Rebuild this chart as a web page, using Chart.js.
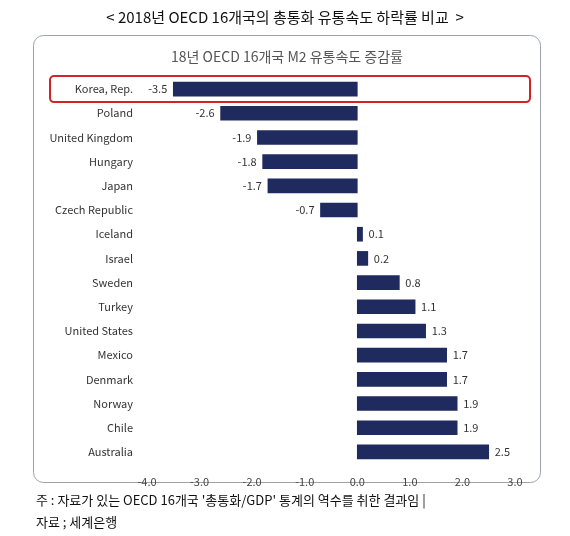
<!DOCTYPE html>
<html><head><meta charset="utf-8">
<script src="https://cdn.jsdelivr.net/npm/chart.js@4"></script>
<style>html,body{margin:0;padding:0;background:#fff}#c{display:block}</style>
</head><body>
<div style="width:570px;height:536px"><canvas id="c" width="570" height="536"></canvas></div>
<script>
const countries=["Korea, Rep.","Poland","United Kingdom","Hungary","Japan","Czech Republic","Iceland","Israel","Sweden","Turkey","United States","Mexico","Denmark","Norway","Chile","Australia"];
const values=[-3.5,-2.6,-1.9,-1.8,-1.7,-0.7,0.1,0.2,0.8,1.1,1.3,1.7,1.7,1.9,1.9,2.5];
const xTicks=[-4,-3,-2,-1,0,1,2,3];
const FONT='"Noto Sans CJK KR","Noto Sans",sans-serif';
const deco={id:'deco',
beforeDraw(ch){const c=ch.ctx;c.save();c.fillStyle='#fff';c.fillRect(0,0,570,536);
c.strokeStyle='#9aa3ad';c.lineWidth=1;c.beginPath();c.roundRect(33.5,35.5,507,447,10);c.stroke();
c.fillStyle='#111';c.font='15px '+FONT;c.textAlign='center';c.textBaseline='middle';
c.fillText('< 2018년 OECD 16개국의 총통화 유통속도 하락률 비교  >',285,17);
c.fillStyle='#555';c.font='14px '+FONT;c.fillText('18년 OECD 16개국 M2 유통속도 증감률',287,57);
c.fillStyle='#111';c.font='13px '+FONT;c.textAlign='left';
c.fillText("주 : 자료가 있는 OECD 16개국 '총통화/GDP' 통계의 역수를 취한 결과임 |",36,500);
c.fillText('자료 ; 세계은행',36,522);c.restore();},
afterDatasetsDraw(ch){const c=ch.ctx,m=ch.getDatasetMeta(0);c.save();c.font='11px '+FONT;c.fillStyle='#333';c.textBaseline='middle';
m.data.forEach((b,i)=>{const v=values[i];if(v<0){c.textAlign='right';c.fillText(v.toFixed(1),b.x-6,b.y);}else{c.textAlign='left';c.fillText(v.toFixed(1),b.x+6,b.y);}});
const y=m.data[0].y;c.strokeStyle='#d0232a';c.lineWidth=2;c.beginPath();c.roundRect(50,y-13,480,26,4);c.stroke();c.restore();}};
new Chart(document.getElementById('c'),{type:'bar',
data:{labels:countries,datasets:[{data:values,backgroundColor:'#1f2a5e',barThickness:14}]},
options:{indexAxis:'y',responsive:false,animation:false,
layout:{padding:{left:0,right:55,top:77,bottom:44}},
plugins:{legend:{display:false},tooltip:{enabled:false}},
scales:{
x:{min:-4,max:3,grid:{display:false},border:{display:false},afterFit(s){s.height=28;},
afterBuildTicks(s){s.ticks=xTicks.map(v=>({value:v}));},
ticks:{color:'#444',font:{size:11,family:FONT},callback:v=>v.toFixed(1)}},
y:{grid:{display:false},border:{display:false},afterFit(s){s.width=147;},
ticks:{color:'#333',font:{size:11,family:FONT},padding:6}}}},
plugins:[deco]});
</script></body></html>
